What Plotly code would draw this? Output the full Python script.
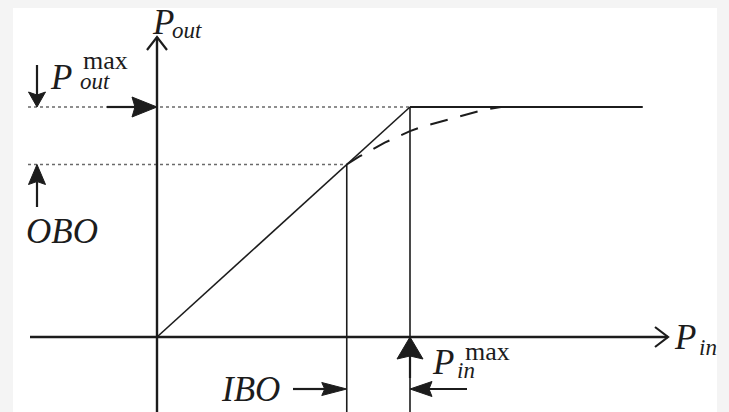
import math
import plotly.graph_objects as go

# normalised power levels (Pin_max = Pout_max = 1)
pin_max = 1.0
pout_max = 1.0
pin_ibo = 0.75
pout_obo = 0.75
linear_pin = [0.0, 1.0]
linear_pout = [0.0, 1.0]
sat_pin = [1.0, 1.92]
sat_pout = [1.0, 1.0]
curve_pin = [0.75, 0.80, 0.85, 0.90, 0.95, 1.00, 1.05, 1.10, 1.15, 1.20, 1.25, 1.30, 1.36]
curve_pout = [0.75, 0.785, 0.815, 0.845, 0.87, 0.895, 0.915, 0.93, 0.945, 0.96, 0.975, 0.99, 1.0]

W, H = 729, 412
SX, SY = 253, 230      # pixels per unit
X0, Y0 = 157, 337      # origin in pixels
INK = "#1c1c1c"
FONT = "Liberation Serif"
BIG, SUP, SUB = 35, 26, 23


def ux(px):
    return (px - X0) / SX


def uy(py):
    return (Y0 - py) / SY


x_lo, x_hi = ux(0), ux(W)
y_lo, y_hi = uy(H), uy(0)

fig = go.Figure()


def line(xs, ys, width=1.6, color=INK, dash="solid"):
    fig.add_trace(go.Scatter(x=xs, y=ys, mode="lines", hoverinfo="skip", showlegend=False,
                             line=dict(color=color, width=width, dash=dash)))


def arrow(xt, yt, xh, yh, head_len, head_w, width=2.2):
    dx, dy = (xh - xt) * SX, (yh - yt) * SY
    n = math.hypot(dx, dy)
    ex, ey = dx / n, dy / n
    bx, by = xh - ex * head_len / SX, yh - ey * head_len / SY
    nx, ny = bx + ex * 3 / SX, by + ey * 3 / SY
    px, py = -ey, ex
    hw = head_w / 2
    line([xt, nx], [yt, ny], width)
    fig.add_trace(go.Scatter(
        x=[xh, bx + px * hw / SX, nx, bx - px * hw / SX, xh],
        y=[yh, by + py * hw / SY, ny, by - py * hw / SY, yh],
        mode="lines", fill="toself", fillcolor=INK, hoverinfo="skip", showlegend=False,
        line=dict(color=INK, width=1)))


def chevron(xh, yh, ex, ey, back=13, half=10):
    bx, by = xh - ex * back / SX, yh - ey * back / SY
    px, py = -ey, ex
    line([bx + px * half / SX, xh, bx - px * half / SX],
         [by + py * half / SY, yh, by - py * half / SY], 2.2)


# dotted guide lines
line([ux(28), pin_max], [pout_max, pout_max], 1.6, "#6a6a6a", "dot")
line([ux(28), pin_ibo], [pout_obo, pout_obo], 1.6, "#6a6a6a", "dot")

# axes
line([0, 0], [y_lo, uy(37)], 2.4)
line([ux(30), ux(668)], [0, 0], 2.4)
chevron(0, uy(37), 0, 1)
chevron(ux(668), 0, 1, 0)

# ideal transfer characteristic
line(linear_pin, linear_pout, 1.6)
line(sat_pin, sat_pout, 2.0)

# drop lines
line([pin_ibo, pin_ibo], [pout_obo, y_lo], 1.6)
line([pin_max, pin_max], [pout_max, y_lo], 1.6)

# real characteristic
line(curve_pin, curve_pout, 2.0, INK, "18px,13px")

# arrows
arrow(ux(37), uy(65), ux(37), pout_max, 15, 17)
arrow(ux(107), pout_max, 0, pout_max, 25, 20)
arrow(ux(37), uy(207), ux(37), pout_obo, 20, 17)
arrow(ux(293), uy(389), pin_ibo, uy(389), 25, 13)
arrow(pin_max, uy(378), pin_max, 0, 22, 26)
arrow(ux(467), uy(389), pin_max, uy(389), 22, 15)


def label(text, px, py, size, xanchor="left"):
    fig.add_annotation(x=ux(px), y=uy(py), text=text, showarrow=False,
                       xanchor=xanchor, yanchor="middle",
                       font=dict(family=FONT, size=size, color=INK))


label("<i>P</i>", 150, 22, BIG)
label("<i>out</i>", 170, 30, SUB)
label("<i>P</i>", 48, 77, BIG)
label("max", 81, 60, SUP)
label("<i>out</i>", 78, 81, SUB)
label("<i>OBO</i>", 62, 231, BIG, "center")
label("<i>IBO</i>", 250, 389, BIG, "center")
label("<i>P</i>", 430, 362, BIG)
label("max", 463, 351, SUP)
label("<i>in</i>", 455, 370, SUB)
label("<i>P</i>", 672, 337, BIG)
label("<i>in</i>", 697, 347, SUB)

fig.add_shape(type="rect", xref="x", yref="y", x0=ux(13), x1=ux(717), y0=y_lo, y1=uy(8),
              fillcolor="#ffffff", line=dict(width=0), layer="below")

fig.update_layout(
    width=W, height=H,
    margin=dict(l=0, r=0, t=0, b=0),
    paper_bgcolor="#f4f4f4", plot_bgcolor="#f4f4f4",
    xaxis=dict(range=[x_lo, x_hi], visible=False, fixedrange=True),
    yaxis=dict(range=[y_lo, y_hi], visible=False, fixedrange=True),
    showlegend=False,
)

fig.write_html("out.html", config={"displayModeBar": False},
               post_script="document.body.style.margin='0';")
